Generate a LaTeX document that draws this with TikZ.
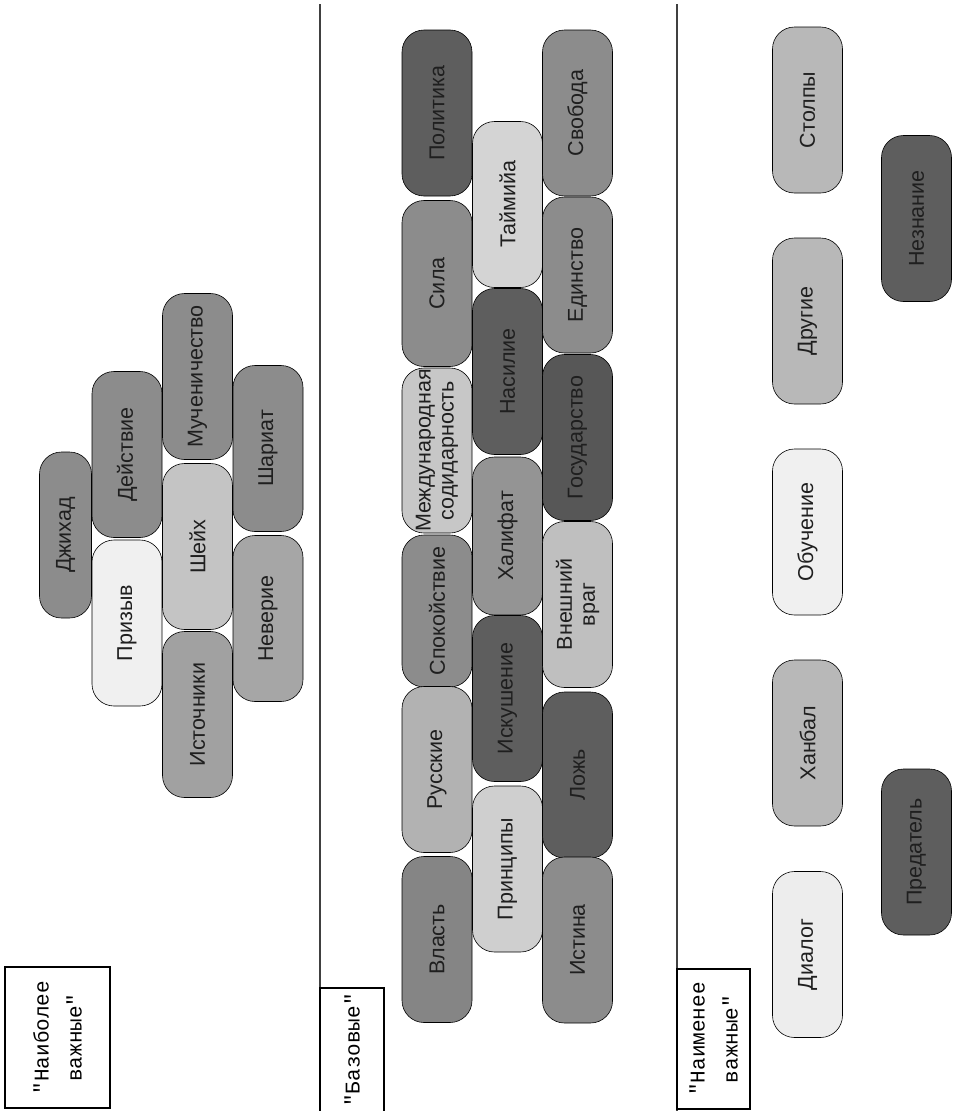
\documentclass[tikz,border=0pt]{standalone}
\usepackage{fontspec}
\setmainfont{Liberation Sans}
\setmonofont{Liberation Mono}

\begin{document}
\begin{tikzpicture}[x=1pt, y=-1pt]
  % styles
  \tikzstyle{word}=[rectangle, rotate=90, rounded corners=22pt, draw=black, line width=0.6pt, minimum width=166pt, minimum height=70pt, inner sep=0pt, align=center, font=\fontsize{21.5}{23}\selectfont, text=black!88];
  \tikzstyle{dk}=[word, fill=black!63];
  \tikzstyle{md}=[word, fill=black!45];
  \tikzstyle{lt}=[word, fill=black!28];
  \tikzstyle{pl}=[word, fill=black!19];
  \tikzstyle{wt}=[word, fill=black!6];
  \tikzstyle{tag}=[rectangle, rotate=90, draw=black, line width=1.1pt, inner sep=0pt, align=center, font=\ttfamily\fontsize{21}{33}\selectfont];
  \tikzstyle{divider}=[line width=1.4pt, black!75];

  \useasboundingbox (0,0) rectangle (955,1111);

  % dividers
  \coordinate (d1top) at (320,4);
  \coordinate (d1bot) at (320,1111);
  \coordinate (d2top) at (677,4);
  \coordinate (d2bot) at (677,1111);
  \draw[divider] (d1top) -- (d1bot);
  \draw[divider] (d2top) -- (d2bot);

  %==================== MOST IMPORTANT ====================
  \node[md, minimum height=52pt] (dzhihad) at (65.5,535) {Джихад};
  \node[md] (dejstvie)   at (127,454.5) {Действие};
  \node[wt] (prizyv)     at (127,623)   {Призыв};
  \node[md] (muchen)     at (197.5,376.5) {Мученичество};
  \node[pl, fill=black!23] (shejkh) at (197.5,546.5) {Шейх};
  \node[lt, fill=black!37] (istochniki) at (197.5,714.5) {Источники};
  \node[md] (shariat)    at (268,448.5) {Шариат};
  \node[lt, fill=black!35] (neverie) at (268,618.5) {Неверие};
  \node[tag, minimum width=141pt, minimum height=105pt] (naibolee) at (57.5,1037.5) {"Наиболее\\важные"};

  %==================== BASIC ====================
  % column 1
  \node[dk] (politika) at (437,113)   {Политика};
  \node[md] (sila)     at (437,283.5) {Сила};
  \node[pl, fill=black!22, minimum width=165pt] (mezhd) at (437,450.5) {Международная\\содидарность};
  \node[md, minimum width=152pt] (spokojstvie) at (437,611) {Спокойствие};
  \node[lt, fill=black!30] (russkie) at (437,769.5) {Русские};
  \node[md, fill=black!48] (vlast) at (437,939.5) {Власть};
  % column 2
  \node[pl, fill=black!17] (tajmija) at (507.5,204.5) {Таймийа};
  \node[dk] (nasilie)    at (507.5,371.5) {Насилие};
  \node[md, fill=black!42, minimum width=158pt] (khalifat) at (507.5,536) {Халифат};
  \node[dk] (iskushenie) at (507.5,698.5) {Искушение};
  \node[pl] (principy)   at (507.5,869)   {Принципы};
  % column 3
  \node[md] (svoboda)   at (577.5,113) {Свобода};
  \node[md, minimum width=156pt] (edinstvo) at (577.5,275) {Единство};
  \node[dk, fill=black!66] (gosudarstvo) at (577.5,437.5) {Государство};
  \node[lt, fill=black!25] (vrag) at (577.5,604.5) {Внешний\\враг};
  \node[dk] (lozh)      at (577.5,775) {Ложь};
  \node[md] (istina)    at (577.5,940) {Истина};
  \node[tag, minimum width=124pt, minimum height=64pt] (bazovye) at (352,1050) {"Базовые"};

  %==================== LEAST IMPORTANT ====================
  \node[lt] (stolpy)    at (807.5,110)   {Столпы};
  \node[lt] (drugie)    at (807.5,321)   {Другие};
  \node[wt] (obuchenie) at (807.5,532)   {Обучение};
  \node[lt] (khanbal)   at (807.5,743)   {Ханбал};
  \node[wt, fill=black!7] (dialog) at (807.5,954.5) {Диалог};
  \node[dk] (neznanie)  at (916.5,218.5) {Незнание};
  \node[dk] (predatel)  at (916.5,852)   {Предатель};
  \node[tag, minimum width=140pt, minimum height=73pt] (naimenee) at (713.5,1039) {"Наименее\\важные"};
\end{tikzpicture}
\end{document}
